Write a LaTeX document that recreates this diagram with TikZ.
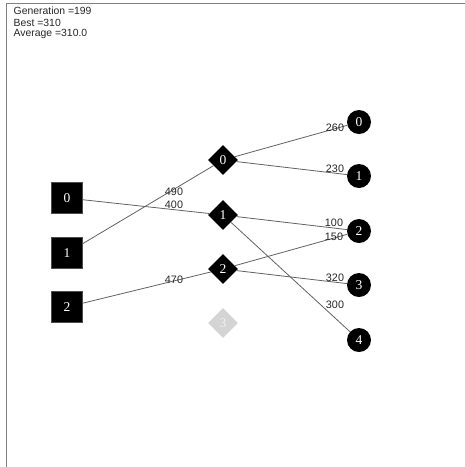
\documentclass[tikz,border=0pt]{standalone}
\usepackage{fontspec}
\setmainfont{Liberation Serif}
\setsansfont{Liberation Sans}
\usetikzlibrary{shapes.geometric}
\tikzset{
  sq/.style={draw=black!70, line width=0.5pt, fill=black, text=white, minimum width=31pt, minimum height=31pt, inner sep=0pt, font=\fontsize{13.5}{13.5}\selectfont},
  dia/.style={diamond, fill=black, text=white, minimum width=30pt, minimum height=30pt, inner sep=0pt, font=\fontsize{13.5}{13.5}\selectfont},
  diagray/.style={diamond, fill=black!17, text=black!6, minimum width=30pt, minimum height=30pt, inner sep=0pt, font=\fontsize{13.5}{13.5}\selectfont},
  circ/.style={circle, fill=black, text=white, minimum size=24pt, inner sep=0pt, font=\fontsize{13.5}{13.5}\selectfont},
  wl/.style={font=\sffamily\fontsize{10.8}{10.8}\selectfont, inner sep=0pt, text=black!85},
  hdr/.style={font=\sffamily\fontsize{10.4}{10.4}\selectfont, inner sep=0pt, anchor=west, text=black!85},
  edge/.style={draw=black!62, line width=0.8pt},
  frame/.style={draw=black!50, line width=1.2pt}
}
\begin{document}
\begin{tikzpicture}[x=1pt,y=-1pt]
\useasboundingbox (0,0) rectangle (465,467);
\coordinate (fbl) at (6.5,467);
\coordinate (ftl) at (6.5,3.5);
\coordinate (ftr) at (465,3.5);
\draw[frame] (fbl) -- (ftl) -- (ftr);
\node[hdr] (h1) at (13.5,11) {Generation =199};
\node[hdr] (h2) at (13.5,22.5) {Best =310};
\node[hdr] (h3) at (13.5,34) {Average =310.0};
% inputs
\node[sq] (s0) at (67,198) {0};
\node[sq] (s1) at (67,253) {1};
\node[sq] (s2) at (67,307) {2};
% middle
\node[dia] (d0) at (223,160) {0};
\node[dia] (d1) at (223,215) {1};
\node[dia] (d2) at (223,269) {2};
\node[diagray] (d3) at (223,323) {3};
% outputs
\node[circ] (c0) at (359,122) {0};
\node[circ] (c1) at (359,176) {1};
\node[circ] (c2) at (359,231) {2};
\node[circ] (c3) at (359,285) {3};
\node[circ] (c4) at (359,340) {4};
% edges
\draw[edge] (s0) -- (d1);
\draw[edge] (s1) -- (d0);
\draw[edge] (s2) -- (d2);
\draw[edge] (d0) -- (c0);
\draw[edge] (d0) -- (c1);
\draw[edge] (d1) -- (c2);
\draw[edge] (d2) -- (c2);
\draw[edge] (d2) -- (c3);
\draw[edge] (d1) -- (c4);
% labels
\node[wl] (l490) at (174,192) {490};
\node[wl] (l400) at (174,205) {400};
\node[wl] (l470) at (174,280) {470};
\node[wl] (l260) at (335,128) {260};
\node[wl] (l230) at (335,169) {230};
\node[wl] (l100) at (334,223) {100};
\node[wl] (l150) at (334,237) {150};
\node[wl] (l320) at (335,278) {320};
\node[wl] (l300) at (335,305) {300};
\end{tikzpicture}
\end{document}
